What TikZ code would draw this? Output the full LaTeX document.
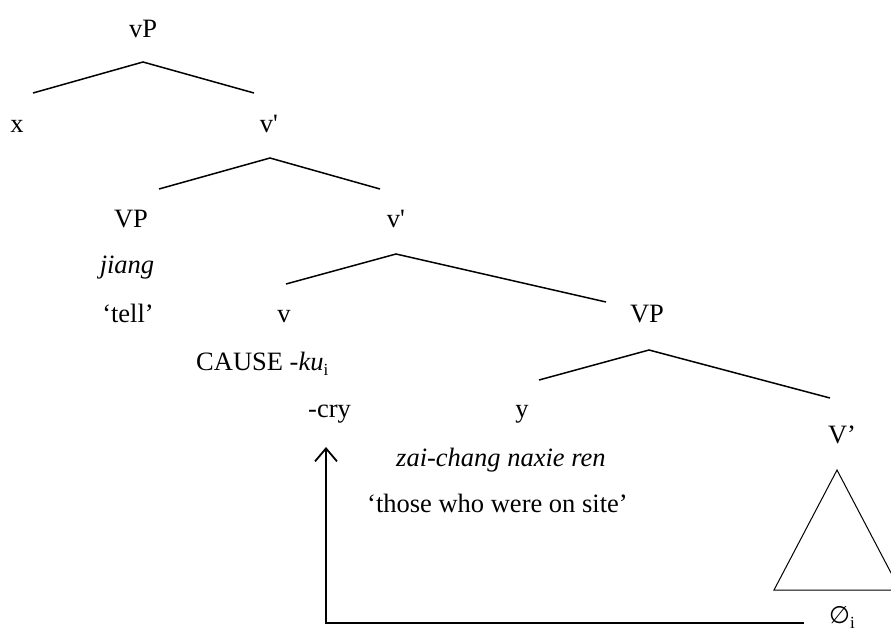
\documentclass[tikz,border=0pt]{standalone}
\usepackage{fontspec}
\usetikzlibrary{arrows.meta}
\newfontfamily\treefont{Liberation Serif}
\newfontfamily\symfont{DejaVu Sans}
\newcommand{\lsub}[1]{\raisebox{-0.22em}{\fontsize{17}{17}\selectfont #1}}
\tikzset{
  lbl/.style={inner sep=0pt, anchor=base, font=\treefont\fontsize{26.5}{30}\selectfont},
  lblw/.style={lbl, anchor=base west},
  branch/.style={line width=1.5pt, line join=miter},
  tri/.style={line width=1pt},
  movearrow/.style={line width=2pt, -{Straight Barb[length=13pt,width=22pt,line width=1.8pt]}}
}
\begin{document}
\begin{tikzpicture}[x=1pt,y=-1pt]
\useasboundingbox (0,0) rectangle (891,638);

% labels of the tree
\node[lbl] (vP)   at (143,37)  {vP};
\node[lbl] (x)    at (17,132)  {x};
\node[lbl] (vb1)  at (269,132) {v'};
\node[lbl] (VP1)  at (131,227) {VP};
\node[lbl] (vb2)  at (396,227) {v'};
\node[lbl] (jiang) at (127,273) {\itshape jiang};
\node[lbl] (tell) at (128,322) {‘tell’};
\node[lbl] (v)    at (284,322) {v};
\node[lbl] (VP2)  at (647,322) {VP};
\node[lblw] (cause) at (196,370) {CAUSE -\textit{ku}\lsub{i}};
\node[lblw] (cry) at (308,417) {-cry};
\node[lbl] (y)    at (522,417) {y};
\node[lbl] (Vb)   at (842,443) {V’};
\node[lblw] (zai) at (396,466) {\itshape zai-chang naxie ren};
\node[lblw] (those) at (367,512) {‘those who were on site’};
\node[lblw] (empty) at (829,623) {{\symfont\fontsize{24}{28}\selectfont ∅}\lsub{i}};

% branch points
\coordinate (a0) at (143,62);  \coordinate (l0) at (33,93);   \coordinate (r0) at (254,93);
\coordinate (a1) at (270,158); \coordinate (l1) at (159,189); \coordinate (r1) at (380,189);
\coordinate (a2) at (396,254); \coordinate (l2) at (286,284); \coordinate (r2) at (606,302);
\coordinate (a3) at (649,350); \coordinate (l3) at (539,380); \coordinate (r3) at (830,398);

\draw[branch] (l0) -- (a0) -- (r0);
\draw[branch] (l1) -- (a1) -- (r1);
\draw[branch] (l2) -- (a2) -- (r2);
\draw[branch] (l3) -- (a3) -- (r3);

% triangle under V'
\coordinate (ttop) at (837,470);
\coordinate (tleft) at (774,590);
\coordinate (tright) at (900,590);
\draw[tri] (tleft) -- (ttop) -- (tright) -- cycle;

% movement arrow from the empty element up to -cry
\coordinate (mstart) at (804,623);
\coordinate (mcorner) at (326,623);
\coordinate (mend) at (326,447);
\draw[movearrow] (mstart) -- (mcorner) -- (mend);
\end{tikzpicture}
\end{document}
